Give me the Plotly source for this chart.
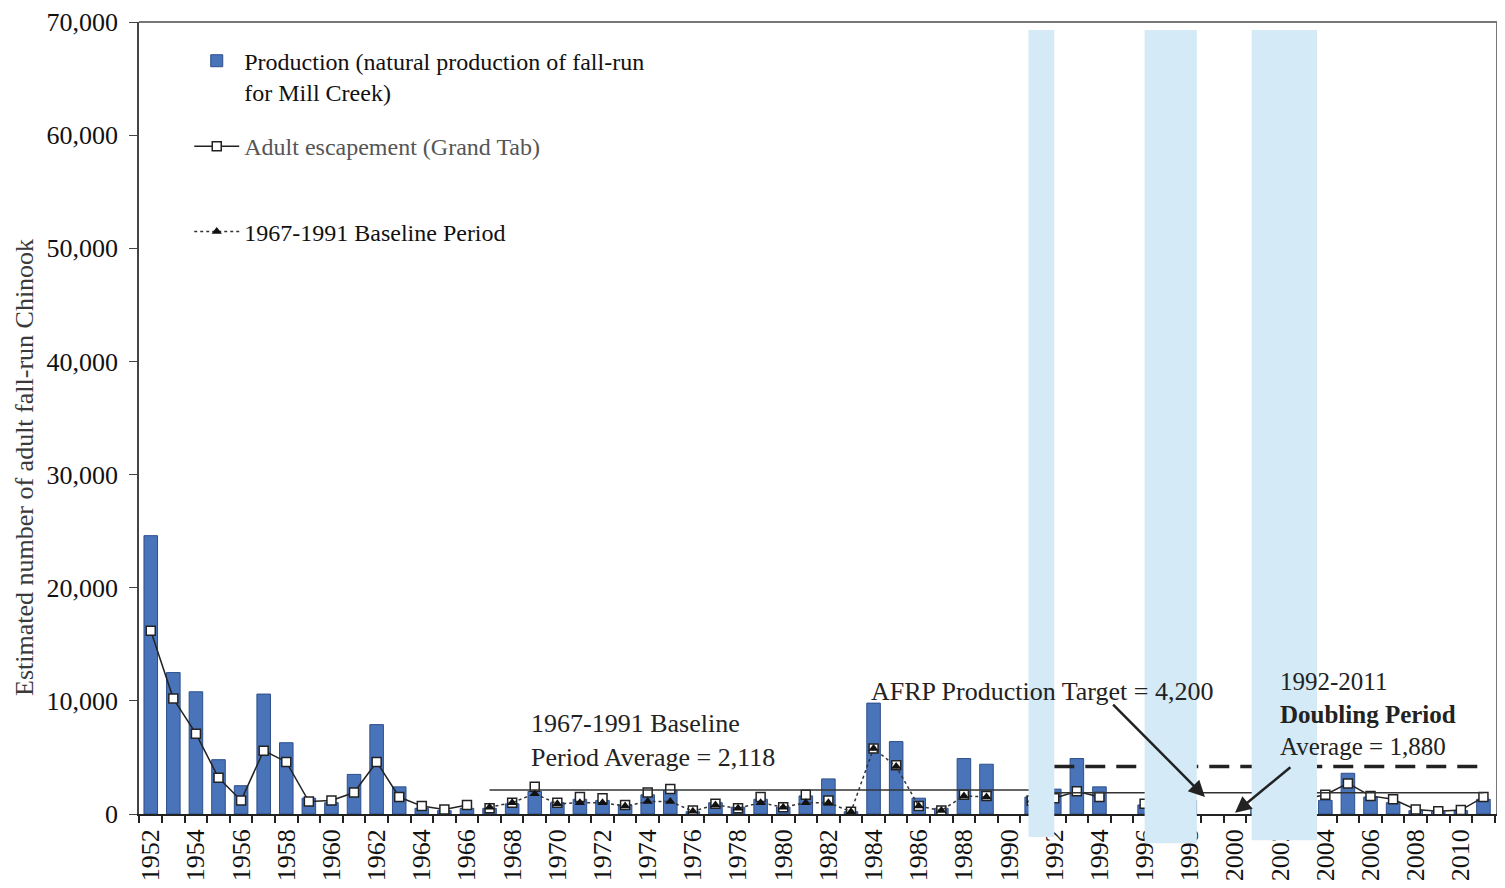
import plotly.graph_objects as go

years = list(range(1952, 2012))

# Production (natural production of fall-run for Mill Creek)
production = [24600, 12500, 10800, 4800, 2500, 10600, 6300, 1400, 1000, 3500,
              7900, 2400, 500, 300, 500, 500, 900, 2000, 1000, 1300,
              1200, 800, 1700, 2100, 200, 1000, 600, 1300, 600, 1600,
              3100, 200, 9800, 6400, 1400, 500, 4900, 4400, None, 1500,
              2200, 4900, 2400, None, 800, 500, 1200, None, None, 500,
              800, 1200, 1200, 3600, 1500, 1000, 300, 200, 300, 1300]

# Adult escapement (Grand Tab)
escapement = [16200, 10200, 7100, 3200, 1200, 5600, 4600, 1100, 1200, 1900,
              4600, 1500, 700, 400, 800, 500, 1000, 2400, 1000, 1500,
              1400, 800, 1900, 2200, 300, 900, 500, 1500, 600, 1700,
              1200, 200, 5800, 4300, 700, 300, 1700, 1600, None, 1200,
              1400, 2000, 1500, None, 900, 600, 1300, None, None, 600,
              900, 1300, 1700, 2700, 1600, 1300, 400, 250, 350, 1500]

# 1967-1991 Baseline Period
baseline_years = list(range(1967, 1992))
baseline = [600, 1000, 1800, 900, 1000, 1000, 700, 1100, 1100, 250,
            800, 500, 1000, 600, 1000, 1000, 200, 5800, 4200, 700,
            300, 1600, 1500, None, 1200]

BASELINE_AVG = 2118
DOUBLING_AVG = 1880
AFRP_TARGET = 4200

y_ticks = list(range(0, 70001, 10000))
x_ticks = list(range(1952, 2011, 2))

esc_solid = [v if (y < 1967 or y > 1991) else None for y, v in zip(years, escapement)]
esc_mid_x = [y for y in years if 1967 <= y <= 1991]
esc_mid = [v for y, v in zip(years, escapement) if 1967 <= y <= 1991]

FONT = "Liberation Serif"

fig = go.Figure()
fig.add_trace(go.Bar(
    x=years, y=production, width=0.6,
    name="Production (natural production of fall-run<br>for Mill Creek)",
    marker=dict(color="#4a74ba", line=dict(color="#2d4f8c", width=1)),
    legendgroup="a",
))
fig.add_trace(go.Scatter(
    x=years, y=esc_solid, mode="lines+markers",
    name="<span style='color:#555'>Adult escapement (Grand Tab)</span><br>&nbsp;",
    line=dict(color="#222", width=1.5),
    marker=dict(symbol="square", size=9, color="white", line=dict(color="#222", width=1.5)),
    legendgroup="b",
))
fig.add_trace(go.Scatter(
    x=esc_mid_x, y=esc_mid, mode="markers", showlegend=False,
    marker=dict(symbol="square", size=9, color="white", line=dict(color="#222", width=1.5)),
))
fig.add_trace(go.Scatter(
    x=baseline_years, y=baseline, mode="lines+markers",
    name="1967-1991 Baseline Period<br>&nbsp;",
    line=dict(color="#333", width=1.5, dash="dot"),
    marker=dict(symbol="triangle-up", size=9, color="#111"),
    legendgroup="c",
))

shapes = [
    dict(type="line", xref="x", yref="y", x0=1967, x1=1991.5, y0=BASELINE_AVG, y1=BASELINE_AVG,
         line=dict(color="#333", width=1.5), layer="above"),
    dict(type="line", xref="x", yref="y", x0=1992, x1=2011, y0=DOUBLING_AVG, y1=DOUBLING_AVG,
         line=dict(color="#333", width=1.5), layer="above"),
    dict(type="line", xref="x", yref="y", x0=1992, x1=2011, y0=AFRP_TARGET, y1=AFRP_TARGET,
         line=dict(color="#222", width=3.5, dash="20px,11px"), layer="above"),
    # frame top and right
    dict(type="line", xref="paper", yref="paper", x0=0, x1=1, y0=1, y1=1,
         line=dict(color="#777", width=2)),
    dict(type="line", xref="paper", yref="paper", x0=1, x1=1, y0=0, y1=1,
         line=dict(color="#777", width=2)),
]
for x0, x1, y0 in [(1990.86, 1992.0, -0.029), (1996.0, 1998.31, -0.037), (2000.74, 2003.63, -0.033)]:
    shapes.append(dict(type="rect", xref="x", yref="paper", x0=x0, x1=x1, y0=y0, y1=0.99,
                       fillcolor="rgb(212,234,247)", line=dict(width=0), layer="above"))

annotations = [
    dict(x=-0.0839, y=0.437, xref="paper", yref="paper", xanchor="center", yanchor="middle",
         textangle=-90, showarrow=False, borderpad=0,
         text="Estimated number of adult fall-run Chinook",
         font=dict(family=FONT, size=26, color="#3a3a3a")),
    dict(x=1968.73, y=6540, xref="x", yref="y", xanchor="left", yanchor="middle", align="left",
         showarrow=False, text="1967-1991 Baseline<br>Period Average = 2,118",
         font=dict(family=FONT, size=26, color="#222")),
    dict(x=1983.8, y=10870, xref="x", yref="y", xanchor="left", yanchor="middle", align="left",
         showarrow=False, text="AFRP Production Target = 4,200",
         font=dict(family=FONT, size=26, color="#222")),
    dict(x=2001.9, y=8840, xref="x", yref="y", xanchor="left", yanchor="middle", align="left",
         showarrow=False, text="1992-2011<br><b>Doubling Period</b><br>Average = 1,880",
         font=dict(family=FONT, size=25, color="#222")),
    dict(x=1998.67, y=1500, xref="x", yref="y", ax=1994.54, ay=9810, axref="x", ayref="y",
         text="", showarrow=True, arrowhead=2, arrowsize=1.3, arrowwidth=2.5, arrowcolor="#222"),
    dict(x=2000.0, y=100, xref="x", yref="y", ax=2002.52, ay=4240, axref="x", ayref="y",
         text="", showarrow=True, arrowhead=2, arrowsize=1.3, arrowwidth=2.5, arrowcolor="#222"),
]

fig.update_layout(
    width=1497, height=880,
    margin=dict(l=131, r=8, t=14, b=74),
    paper_bgcolor="white", plot_bgcolor="white",
    font=dict(family=FONT, size=22, color="#111"),
    bargap=0.4,
    shapes=shapes, annotations=annotations,
    legend=dict(x=0.037, y=0.979, xanchor="left", yanchor="top",
                font=dict(family=FONT, size=24, color="#111"),
                bgcolor="rgba(0,0,0,0)", tracegroupgap=20, valign="top",
                itemwidth=45),
)
fig.update_xaxes(
    range=[1951.48, 2011.6], tickvals=x_ticks, ticktext=[str(v) for v in x_ticks],
    tickangle=-90, ticks="outside", ticklen=3, tickcolor="rgba(0,0,0,0)",
    tickfont=dict(family=FONT, size=26, color="#111"),
    minor=dict(tick0=1951.5, dtick=1, ticks="outside", ticklen=7, tickcolor="#222", tickwidth=1.5),
    showgrid=False, zeroline=False, showline=True, linecolor="#222", linewidth=1.5,
    automargin=False,
)
fig.update_yaxes(
    range=[0, 70000], tickvals=y_ticks, tickformat=",",
    ticks="outside", ticklen=8, tickcolor="#444", tickwidth=1.2,
    ticklabelstandoff=6,
    tickfont=dict(family=FONT, size=26, color="#111"),
    showgrid=False, zeroline=False, showline=True, linecolor="#444", linewidth=1.5,
    automargin=False,
)

fig.write_html("out.html")
